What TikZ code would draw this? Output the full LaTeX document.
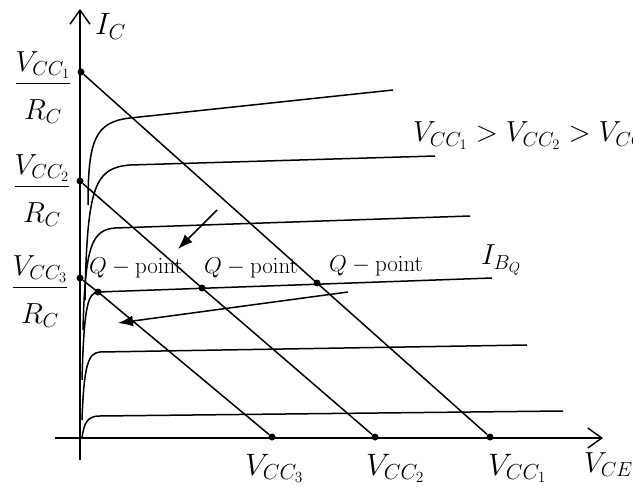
\RequirePackage{fix-cm}
\documentclass[tikz,border=0pt]{standalone}
\usepackage{tikz}
\usetikzlibrary{arrows.meta,positioning}
\newcommand{\ratio}[1]{$\displaystyle{{V_{CC_{#1}}}\above1.3pt{\rule{0pt}{31pt}R_C}}$}

\begin{document}
\begin{tikzpicture}[
  x=1pt, y=-1pt,
  axis/.style={-{Straight Barb[length=14pt,width=20pt,line width=1.4pt]}, line width=1.6pt},
  ln/.style={line width=1.5pt},
  arr/.style={-{Latex[length=15pt,width=11pt]}, line width=1.5pt},
  dot/.style={circle, fill, inner sep=0pt, minimum size=7pt},
  lbl/.style={inner sep=0pt, font=\fontsize{29}{34}\selectfont},
  big/.style={inner sep=0pt, font=\fontsize{31}{36}\selectfont},
  qlbl/.style={inner sep=0pt, font=\fontsize{23}{27}\selectfont}
]
\useasboundingbox (0,0) rectangle (633,487);

\coordinate (ybot) at (80,460);
\coordinate (ytop) at (80,9);
\coordinate (xl)   at (55,438);
\coordinate (xr)   at (603,438);
\draw[axis] (ybot) -- (ytop);
\draw[axis] (xl) -- (xr);

\node[dot] (a1) at (81,72)  {};
\node[dot] (a2) at (80,181) {};
\node[dot] (a3) at (80,278) {};
\node[dot] (b1) at (490,437) {};
\node[dot] (b2) at (375,437) {};
\node[dot] (b3) at (272,437) {};
\node[dot] (q1) at (317,283) {};
\node[dot] (q2) at (202,288) {};
\node[dot] (q3) at (98,292)  {};

\draw[ln] (a1) -- (q1.center) -- (b1);
\draw[ln] (a2) -- (q2.center) -- (b2);
\draw[ln] (a3) -- (q3.center) -- (b3);

\draw[ln] (88,205) .. controls (88,140) and (95,122) .. (130,118) -- (393,90);
\draw[ln] (85,300) .. controls (87,185) and (95,168) .. (130,165) -- (435,156);
\draw[ln] (83,330) .. controls (85,245) and (92,230) .. (115,228) -- (470,216);
\draw[ln] (82,380) .. controls (84,305) and (88,293) .. (q3.center) -- (492,278);
\draw[ln] (82,420) .. controls (84,365) and (88,353) .. (100,352) -- (527,345);
\draw[ln] (82,438) .. controls (84,422) and (88,416) .. (100,416) -- (563,411);

\coordinate (s1) at (217,210);
\coordinate (t1) at (178,249);
\coordinate (s2) at (348,292);
\coordinate (t2) at (118,323);
\draw[arr] (s1) -- (t1);
\draw[arr] (s2) -- (t2);

\node[big, anchor=base west] (ic) at (95,35) {$I_C$};
\node[lbl, anchor=base] (f1) at (43,91)  {\ratio{1}};
\node[lbl, anchor=base] (f2) at (42,194) {\ratio{2}};
\node[lbl, anchor=base] (f3) at (40,295) {\ratio{3}};

\node[qlbl] (ql3) at (136,268) {$Q-\mathrm{point}$};
\node[qlbl] (ql2) at (251,268) {$Q-\mathrm{point}$};
\node[qlbl] (ql1) at (376,266) {$Q-\mathrm{point}$};

\node[lbl, anchor=base west] (ord) at (413,142) {$V_{CC_1}>V_{CC_2}>V_{CC_3}$};
\node[lbl, anchor=base west] (ib) at (481,265) {$I_{B_Q}$};

\node[big, anchor=base west] (v3) at (245,475) {$V_{CC_3}$};
\node[big, anchor=base west] (v2) at (366,475) {$V_{CC_2}$};
\node[big, anchor=base west] (v1) at (488,475) {$V_{CC_1}$};
\node[lbl, anchor=base west] (vce) at (584,472) {$V_{CE}$};
\end{tikzpicture}
\end{document}
